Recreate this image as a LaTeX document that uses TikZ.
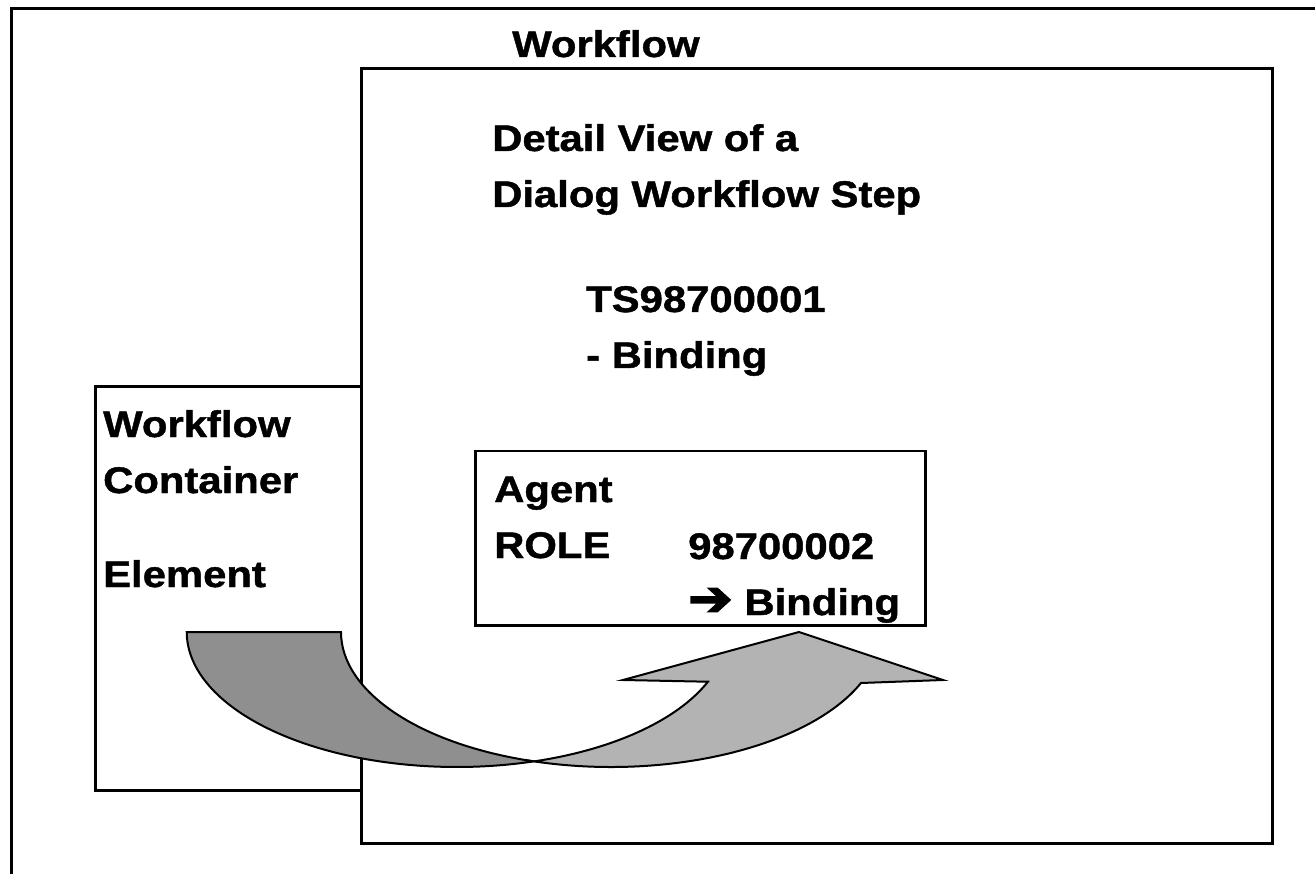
\documentclass[tikz,border=0pt]{standalone}
\usepackage{fontspec}
\setmainfont{Liberation Sans}[FakeStretch=1.13, BoldFeatures={FakeBold=1.2}]
\newfontfamily\arrowfont{DejaVu Sans}[FakeStretch=1.1, FakeBold=4]
\usetikzlibrary{positioning}
\definecolor{tailgray}{HTML}{8F8F8F}
\definecolor{headgray}{HTML}{B3B3B3}

\begin{document}
\begin{tikzpicture}[
    x=1pt, y=1pt,
    font=\fontsize{37}{56}\selectfont\bfseries,
    frame/.style={draw, line width=3pt, fill=white, inner sep=0pt, anchor=north west},
    lbl/.style={inner sep=0pt, anchor=base west, align=left},
    band/.style={draw, line width=2pt, line join=miter},
    rim/.style={x radius=270pt, y radius=135pt}
  ]
  \useasboundingbox (0,0) rectangle (1315,-874);
  \clip (0,0) rectangle (1315,-874);

  % boxes (outer frame runs off the page)
  \node[frame, minimum width=1340pt, minimum height=900pt] (outer) at (10,-7) {};
  \node[frame, minimum width=266pt, minimum height=404pt] (container) at (94,-385) {};
  \node[frame, minimum width=911pt, minimum height=775pt] (workflow) at (360,-67) {};
  \node[frame, line width=2.5pt, minimum width=450pt, minimum height=174pt] (agentbox) at (474,-450) {};

  % curved arrow: tail, then head
  \draw[band, fill=tailgray] (187,-632) -- (341,-632)
      arc[rim, start angle=180, end angle=253.4]
      arc[rim, start angle=286.6, end angle=180] -- cycle;
  \draw[band, fill=headgray] (534,-761.4)
      arc[rim, start angle=286.6, end angle=338.4]
      -- (623,-680) -- (799,-632) -- (943,-680) -- (861,-683)
      arc[rim, start angle=337.8, end angle=253.4] -- cycle;

  % labels
  \node[lbl] (wftitle) at (512,-57) {Workflow};
  \node[lbl] (steptitle) at (492,-207) {Detail View of a\\Dialog Workflow Step};
  \node[lbl] (stepid) at (586,-368) {TS98700001\\- Binding};
  \node[lbl] (element) at (103,-587) {Workflow\\Container\\[38pt]Element};
  \node[lbl] (agent) at (494,-558) {Agent\\ROLE};
  \node[lbl] (roleid) at (688,-615) {98700002\\{\arrowfont\fontsize{48}{56}\selectfont ➔}\hspace{12pt}Binding};
\end{tikzpicture}
\end{document}
